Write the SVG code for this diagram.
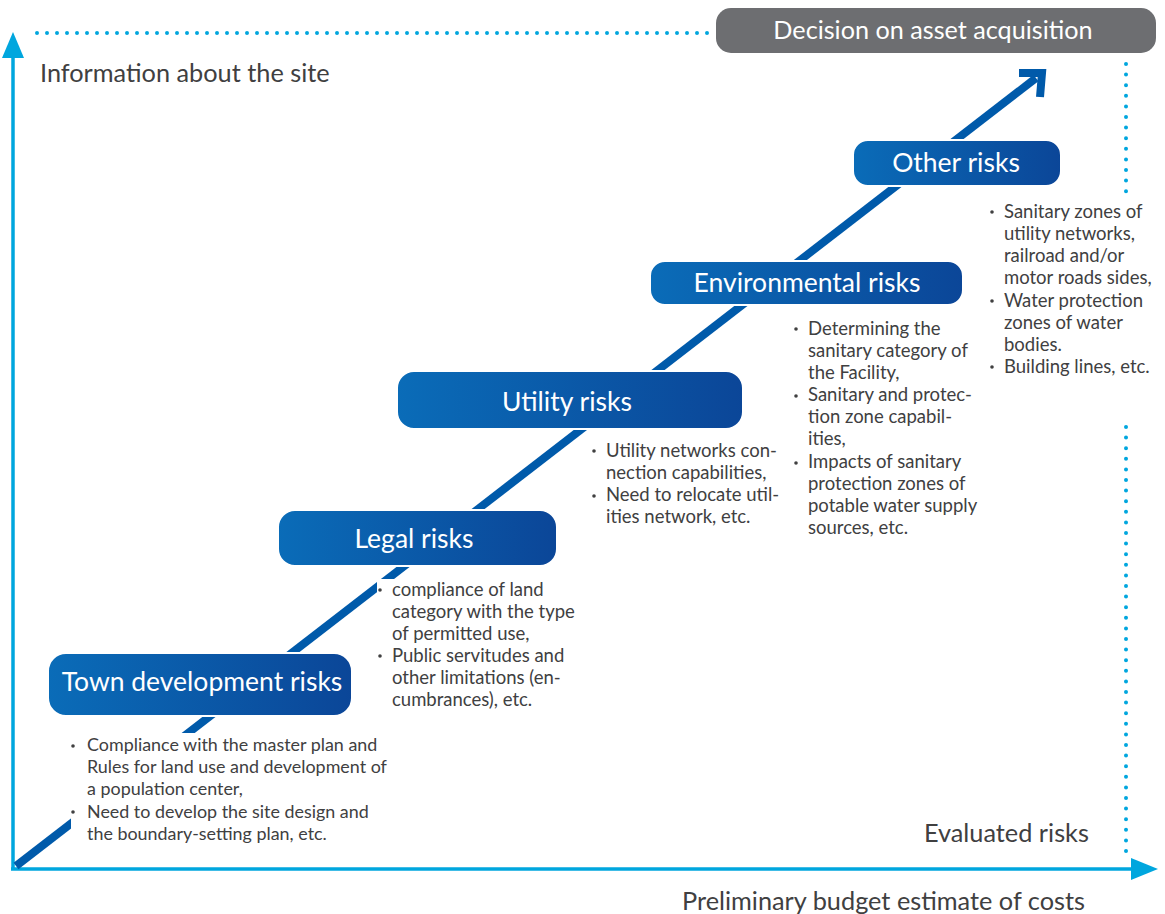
<svg xmlns="http://www.w3.org/2000/svg" width="1165" height="914" viewBox="0 0 1165 914">
<style>
.lbl{font-family:Lato,"Open Sans","Liberation Sans",sans-serif;font-size:26.5px;fill:#ffffff;text-anchor:middle}
.ax{font-family:Lato,"Open Sans","Liberation Sans",sans-serif;font-size:25.3px;fill:#404041}
.li{font-family:Lato,"Open Sans","Liberation Sans",sans-serif;font-size:18.5px;fill:#404041}
.box{fill:url(#bg);stroke:#ffffff;stroke-width:2}
.dot{fill:#404041}
.dotted{fill:none;stroke:#00a6de;stroke-width:4;stroke-linecap:round}
.mask{fill:#ffffff}
</style>
<defs>
<linearGradient id="bg" x1="0" y1="0" x2="1" y2="0">
<stop offset="0" stop-color="#0a6cb8"/>
<stop offset="1" stop-color="#0b4698"/>
</linearGradient>
</defs>
<rect width="1165" height="914" fill="#ffffff"/>

<g id="axes">
<line x1="13" y1="870" x2="13" y2="52" stroke="#00a6de" stroke-width="3.5"/>
<polygon points="13,32 2,58 24,58" fill="#00a6de"/>
<line x1="11" y1="869" x2="1138" y2="869" stroke="#00a6de" stroke-width="3.5"/>
<polygon points="1158,869 1131,858 1131,880" fill="#00a6de"/>
<line class="dotted" x1="37" y1="33" x2="710" y2="33" stroke-dasharray="0 10"/>
<line class="dotted" x1="1126" y1="64" x2="1126" y2="200" stroke-dasharray="0 10.6"/>
<line class="dotted" x1="1126" y1="427" x2="1126" y2="855" stroke-dasharray="0 10.6"/>
<text class="ax" x="40" y="82">Information about the site</text>
<text class="ax" x="924" y="842">Evaluated risks</text>
<text class="ax" x="682" y="910">Preliminary budget estimate of costs</text>
</g>

<g id="connectors">
<line x1="16" y1="866" x2="1036" y2="78" stroke="#005aaa" stroke-width="8"/>
<polyline points="1019,73 1042,73 1040,97" fill="none" stroke="#005aaa" stroke-width="8" stroke-linejoin="miter"/>
</g>

<g id="decision">
<rect x="716" y="8" width="440" height="45" rx="15" fill="#6d6e71"/>
<text class="lbl" x="933" y="39" style="font-size:25.2px">Decision on asset acquisition</text>
</g>

<g id="other-risks">
<rect class="box" x="853" y="140" width="208" height="46" rx="15"/>
<text class="lbl" x="956" y="172">Other risks</text>
<g id="other-list">
<circle class="dot" cx="992" cy="212" r="1.8"/>
<circle class="dot" cx="992" cy="301" r="1.8"/>
<circle class="dot" cx="992" cy="367" r="1.8"/>
<text class="li"><tspan x="1004" y="218">Sanitary zones of</tspan><tspan x="1004" y="240">utility networks,</tspan><tspan x="1004" y="262">railroad and/or</tspan><tspan x="1004" y="284">motor roads sides,</tspan><tspan x="1004" y="307">Water protection</tspan><tspan x="1004" y="329">zones of water</tspan><tspan x="1004" y="351">bodies.</tspan><tspan x="1004" y="373">Building lines, etc.</tspan></text>
</g>
</g>

<g id="environmental-risks">
<rect class="box" x="650" y="261" width="313" height="44" rx="15"/>
<text class="lbl" x="807" y="292">Environmental risks</text>
<g id="env-list">
<circle class="dot" cx="796" cy="329" r="1.8"/>
<circle class="dot" cx="796" cy="396" r="1.8"/>
<circle class="dot" cx="796" cy="463" r="1.8"/>
<text class="li"><tspan x="808" y="335">Determining the</tspan><tspan x="808" y="357">sanitary category of</tspan><tspan x="808" y="379">the Facility,</tspan><tspan x="808" y="401">Sanitary and protec-</tspan><tspan x="808" y="423">tion zone capabil-</tspan><tspan x="808" y="445">ities,</tspan><tspan x="808" y="468">Impacts of sanitary</tspan><tspan x="808" y="490">protection zones of</tspan><tspan x="808" y="512">potable water supply</tspan><tspan x="808" y="534">sources, etc.</tspan></text>
</g>
</g>

<g id="utility-risks">
<rect class="box" x="397" y="371" width="346" height="58" rx="17"/>
<text class="lbl" x="567" y="411">Utility risks</text>
<g id="utility-list">
<circle class="dot" cx="594" cy="451" r="1.8"/>
<circle class="dot" cx="594" cy="496" r="1.8"/>
<text class="li"><tspan x="606" y="457">Utility networks con-</tspan><tspan x="606" y="479">nection capabilities,</tspan><tspan x="606" y="501">Need to relocate util-</tspan><tspan x="606" y="523">ities network, etc.</tspan></text>
</g>
</g>

<g id="legal-risks">
<rect class="box" x="278" y="510" width="279" height="56" rx="17"/>
<text class="lbl" x="414" y="548">Legal risks</text>
<g id="legal-list">
<rect class="mask" x="377" y="579" width="215" height="135"/>
<circle class="dot" cx="380" cy="590" r="1.8"/>
<circle class="dot" cx="380" cy="656" r="1.8"/>
<text class="li"><tspan x="392" y="596">compliance of land</tspan><tspan x="392" y="618">category with the type</tspan><tspan x="392" y="640">of permitted use,</tspan><tspan x="392" y="662">Public servitudes and</tspan><tspan x="392" y="684">other limitations (en-</tspan><tspan x="392" y="706">cumbrances), etc.</tspan></text>
</g>
</g>

<g id="town-development-risks">
<rect class="box" x="48" y="653" width="304" height="63" rx="18"/>
<text class="lbl" x="202" y="691">Town development risks</text>
<g id="town-list">
<rect class="mask" x="71" y="733" width="320" height="115"/>
<circle class="dot" cx="73" cy="746" r="1.8"/>
<circle class="dot" cx="73" cy="812" r="1.8"/>
<text class="li" style="font-size:17.9px"><tspan x="87" y="751">Compliance with the master plan and</tspan><tspan x="87" y="773">Rules for land use and development of</tspan><tspan x="87" y="795">a population center,</tspan><tspan x="87" y="818">Need to develop the site design and</tspan><tspan x="87" y="840">the boundary-setting plan, etc.</tspan></text>
</g>
</g>
</svg>
